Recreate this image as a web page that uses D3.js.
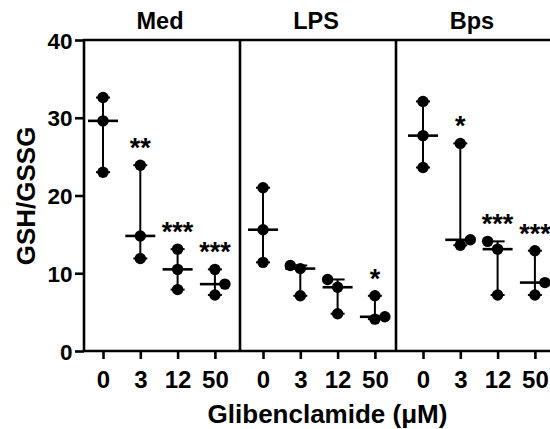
<!DOCTYPE html>
<html>
<head>
<meta charset="utf-8">
<script src="https://cdn.jsdelivr.net/npm/d3@7/dist/d3.min.js"></script>
<style>
  html, body { margin: 0; padding: 0; background: #fff; }
  svg { display: block; }
  text { font-family: "Liberation Sans", Arial, sans-serif; font-weight: bold; fill: #000; }
</style>
</head>
<body>
<svg id="chart" width="550" height="429"></svg>
<script>
// ---- data ----
const groups = ["Med", "LPS", "Bps"];
const doses = ["0", "3", "12", "50"];
const medValues = [[32.6, 29.6, 23.0], [23.9, 14.8, 11.9], [13.1, 10.5, 7.9], [10.5, 8.6, 7.2]];
const lpsValues = [[21.0, 15.6, 11.4], [11.0, 10.6, 7.1], [9.2, 8.2, 4.8], [7.1, 4.4, 4.1]];
const bpsValues = [[32.1, 27.7, 23.6], [26.7, 14.3, 13.6], [14.1, 13.1, 7.2], [12.9, 8.8, 7.2]];
const medStars = ["", "**", "***", "***"];
const lpsStars = ["", "", "", "*"];
const bpsStars = ["", "*", "***", "***"];
const yTicks = [0, 10, 20, 30, 40];
const yLabel = "GSH/GSSG";
const xLabel = "Glibenclamide (\u03BCM)";

// horizontal dodge slot of each point (layout, to avoid overlap)
const dodge = {
  Med: [[0,0,0],[0,0,0],[0,0,0],[0,1,0]],
  LPS: [[0,0,0],[-1,0,0],[-1,0,0],[0,1,0]],
  Bps: [[0,0,0],[0,1,0],[-1,0,0],[0,1,0]]
};

const valuesBy = { Med: medValues, LPS: lpsValues, Bps: bpsValues };
const starsBy = { Med: medStars, LPS: lpsStars, Bps: bpsStars };

// ---- layout ----
const svg = d3.select("#chart");
const mLeft = 84, mTop = 40, mBottom = 351, mRight = 552;

const y = d3.scaleLinear().domain([0, 40]).range([mBottom, mTop]);
const panel = d3.scaleBand().domain(groups).range([mLeft, mRight]);
const xGroup = d3.scaleBand().domain(groups).range([mLeft, mLeft + 3 * 160]);
const xInner = d3.scalePoint().domain(doses).range([19, 19 + 3 * 37.3]);
const xPos = (g, d) => xGroup(g) + xInner(d);

// frame
const frame = svg.append("g").attr("stroke", "#000").attr("stroke-width", 2.6).attr("fill", "none");
frame.append("line").attr("x1", mLeft - 1.3).attr("x2", mRight).attr("y1", mTop).attr("y2", mTop);
frame.append("line").attr("x1", mLeft).attr("x2", mRight).attr("y1", mBottom).attr("y2", mBottom);
groups.forEach(g => {
  frame.append("line").attr("x1", panel(g)).attr("x2", panel(g)).attr("y1", mTop).attr("y2", mBottom);
});
frame.append("line").attr("x1", mRight).attr("x2", mRight).attr("y1", mTop).attr("y2", mBottom);

// y axis
const yAxis = svg.append("g").attr("transform", `translate(${mLeft},0)`)
  .call(d3.axisLeft(y).tickValues(yTicks).tickSize(9).tickPadding(2.5).tickFormat(d3.format("d")));
yAxis.select(".domain").remove();
yAxis.selectAll(".tick line").attr("stroke", "#000").attr("stroke-width", 2.6);
yAxis.selectAll(".tick text").attr("font-size", 22.5).attr("font-family", "Liberation Sans, Arial, sans-serif")
  .attr("font-weight", "bold").attr("dy", "0.36em");

// x axes per group
groups.forEach(g => {
  const sc = d3.scalePoint().domain(doses).range([xPos(g, doses[0]), xPos(g, doses[3])]);
  const ax = svg.append("g").attr("transform", `translate(0,${mBottom})`)
    .call(d3.axisBottom(sc).tickSize(8).tickPadding(12));
  ax.select(".domain").remove();
  ax.selectAll(".tick line").attr("stroke", "#000").attr("stroke-width", 2.6);
  ax.selectAll(".tick text").attr("font-size", 24).attr("font-family", "Liberation Sans, Arial, sans-serif")
    .attr("font-weight", "bold");
});

// panel titles
groups.forEach(g => {
  svg.append("text").attr("x", panel(g) + panel.bandwidth() / 2 - 2).attr("y", 29)
    .attr("text-anchor", "middle").attr("font-size", 23.5).text(g);
});

// data marks
const dot = 5.7, jit = 10, capW = 7, medW = 15;
groups.forEach(g => {
  const gEl = svg.append("g");
  valuesBy[g].forEach((vals, i) => {
    const cx = xPos(g, doses[i]);
    const lo = d3.min(vals), hi = d3.max(vals), md = d3.median(vals);
    gEl.append("line").attr("x1", cx).attr("x2", cx).attr("y1", y(lo)).attr("y2", y(hi))
      .attr("stroke", "#000").attr("stroke-width", 2);
    [lo, hi].forEach(v => gEl.append("line").attr("x1", cx - capW).attr("x2", cx + capW)
      .attr("y1", y(v)).attr("y2", y(v)).attr("stroke", "#000").attr("stroke-width", 2));
    gEl.append("line").attr("x1", cx - medW).attr("x2", cx + medW).attr("y1", y(md)).attr("y2", y(md))
      .attr("stroke", "#000").attr("stroke-width", 2.6);
    vals.forEach((v, k) => {
      gEl.append("circle").attr("cx", cx + dodge[g][i][k] * jit).attr("cy", y(v)).attr("r", dot).attr("fill", "#000");
    });
    const s = starsBy[g][i];
    if (s) {
      gEl.append("text").attr("x", cx).attr("y", y(hi) - 8).attr("text-anchor", "middle")
        .attr("font-size", 27).text(s);
    }
  });
});

// axis titles
svg.append("text").attr("transform", `translate(35,196) rotate(-90)`).attr("text-anchor", "middle")
  .attr("font-size", 26).text(yLabel);
svg.append("text").attr("x", 327.5).attr("y", 423).attr("text-anchor", "middle")
  .attr("font-size", 26).text(xLabel);
</script>
</body>
</html>
